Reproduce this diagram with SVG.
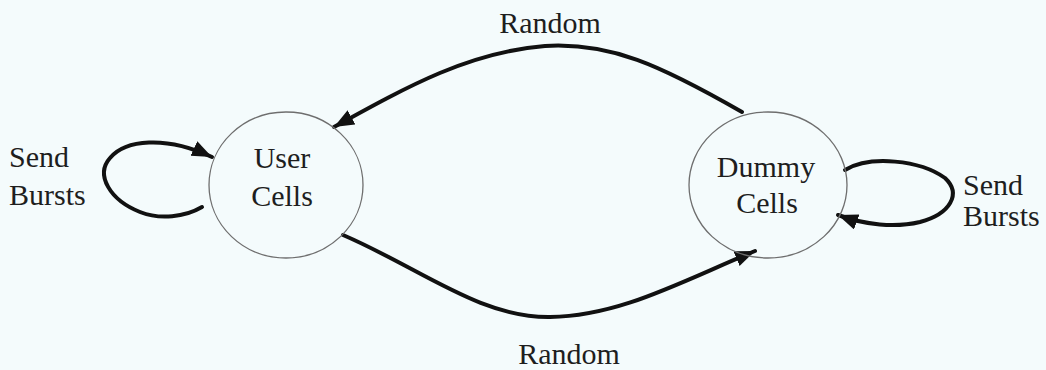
<svg xmlns="http://www.w3.org/2000/svg" width="1046" height="370" viewBox="0 0 1046 370">
<style>
.node{fill:none;stroke:#6e6e6e;stroke-width:1.3}
.lbl{font-family:"Liberation Serif","Times New Roman",serif;font-size:30px;fill:#1e1e1e}
.edge{fill:none;stroke:#111;stroke-width:4;stroke-linecap:round}
</style>
<defs>
<marker id="ah" markerUnits="userSpaceOnUse" markerWidth="22" markerHeight="18" refX="20" refY="8" orient="auto">
<path d="M0,0 L20,8 L0,16 Z" fill="#111"/>
</marker>
</defs>
<rect width="1046" height="370" fill="#f4fbfc"/>
<g id="connectors">
<path class="edge" d="M742,112 C 660,65 610,42 545,46 C 470,52 410,85 334,127" marker-end="url(#ah)"/>
<path class="edge" d="M343,235 C 420,268 480,318 550,317 C 620,316 680,282 755,251" marker-end="url(#ah)"/>
<path class="edge" d="M202,207 C 185,217 160,220 140,212 C 110,200 95,175 110,158 C 125,140 165,135 212,157" marker-end="url(#ah)"/>
<path class="edge" d="M845,170 C 870,155 920,160 945,178 C 962,194 950,214 920,222 C 895,228 865,225 838,215" marker-end="url(#ah)"/>
<text class="lbl" x="550" y="33" text-anchor="middle">Random</text>
<text class="lbl" x="569" y="364" text-anchor="middle">Random</text>
<text class="lbl" x="9" y="167">Send</text>
<text class="lbl" x="9" y="205">Bursts</text>
<text class="lbl" x="963" y="195">Send</text>
<text class="lbl" x="963" y="226">Bursts</text>
</g>
<g id="user-cells">
<ellipse class="node" cx="286" cy="185" rx="77" ry="73"/>
<text class="lbl" x="282" y="168" text-anchor="middle">User</text>
<text class="lbl" x="282" y="206" text-anchor="middle">Cells</text>
</g>
<g id="dummy-cells">
<ellipse class="node" cx="768" cy="185" rx="79" ry="73"/>
<text class="lbl" x="766" y="177" text-anchor="middle">Dummy</text>
<text class="lbl" x="767" y="213" text-anchor="middle">Cells</text>
</g>
</svg>
